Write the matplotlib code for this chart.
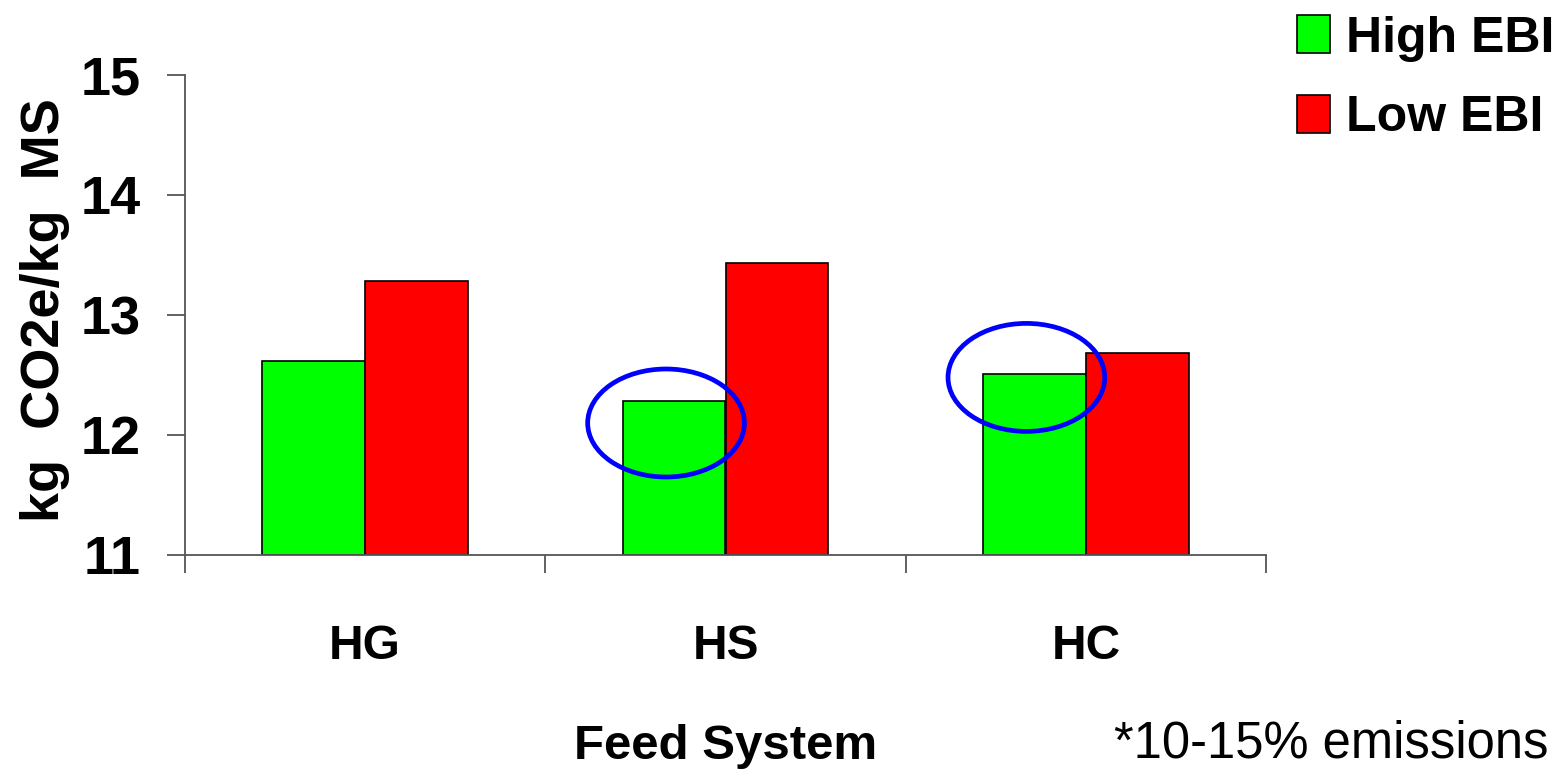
import matplotlib
matplotlib.use("Agg")
import matplotlib.pyplot as plt
from matplotlib.patches import Ellipse, Patch
import numpy as np

plt.rcParams['font.family'] = ['Liberation Sans', 'DejaVu Sans']

# emissions per kg milk solids, by feed system
systems = ['HG', 'HS', 'HC']
high_ebi = [12.62, 12.28, 12.51]
low_ebi = [13.28, 13.43, 12.68]
series_names = ['High EBI', 'Low EBI']
yticks = [11, 12, 13, 14, 15]

# circled bars (category index, centre value)
circled = [(1, 12.10), (2, 12.48)]

green = '#00ff00'
red = '#ff0000'
axis_grey = '#555555'

fig = plt.figure(figsize=(15.64, 7.69), dpi=100)
ax = fig.add_axes([185 / 1564, 1 - 555 / 769, (1266 - 185) / 1564, (555 - 75) / 769])

x = np.arange(len(systems))
w = 0.285
ax.bar(x - w / 2, np.array(high_ebi) - 11, w, bottom=11, color=green,
       edgecolor='black', linewidth=1.2, zorder=2)
ax.bar(x + w / 2, np.array(low_ebi) - 11, w, bottom=11, color=red,
       edgecolor='black', linewidth=1.2, zorder=2)

for i, yc in circled:
    ax.add_patch(Ellipse((i - 0.165, yc), 0.435, 0.9, fill=False,
                         edgecolor='#0000ff', linewidth=3.4, zorder=3))

ax.set_xlim(-0.5, 2.5)
ax.set_ylim(11, 15)
ax.set_yticks(yticks)
ax.set_yticklabels([str(t) for t in yticks], fontsize=39, fontweight='bold')
ax.tick_params(axis='y', length=13, width=1.3, color=axis_grey, pad=19)

# category dividers as x ticks, names centred between them
ax.set_xticks(np.arange(-0.5, 3, 1))
ax.set_xticklabels([])
ax.set_xticks(x, minor=True)
ax.set_xticklabels(systems, minor=True, fontsize=34.5, fontweight='bold')
ax.tick_params(axis='x', which='major', length=13, width=1.3, color=axis_grey)
ax.tick_params(axis='x', which='minor', length=0, pad=50)

for side in ['top', 'right']:
    ax.spines[side].set_visible(False)
ax.spines['left'].set_color(axis_grey)
ax.spines['bottom'].set_color(axis_grey)
ax.spines['left'].set_linewidth(1.3)
ax.spines['bottom'].set_linewidth(1.3)
ax.spines['left'].set_bounds(11, 15)

ax.set_xlabel('Feed System', fontsize=35.5, fontweight='bold', labelpad=39)
ax.set_ylabel('kg  CO2e/kg  MS', fontsize=39, fontweight='bold')
ax.yaxis.set_label_coords(-0.106, 0.51)

handles = [Patch(facecolor=green, edgecolor='black', linewidth=1.2),
           Patch(facecolor=red, edgecolor='black', linewidth=1.2)]
fig.legend(handles, series_names, loc='upper left', bbox_to_anchor=(1252 / 1564, 1.039),
           frameon=False, prop={'size': 36, 'weight': 'bold'},
           handlelength=0.66, handleheight=0.8, handletextpad=0.32, labelspacing=0.66)

fig.text(1548 / 1564, 11 / 769, '*10-15% emissions', fontsize=36.5, ha='right', va='baseline')

fig.savefig('out.png', dpi=100)
